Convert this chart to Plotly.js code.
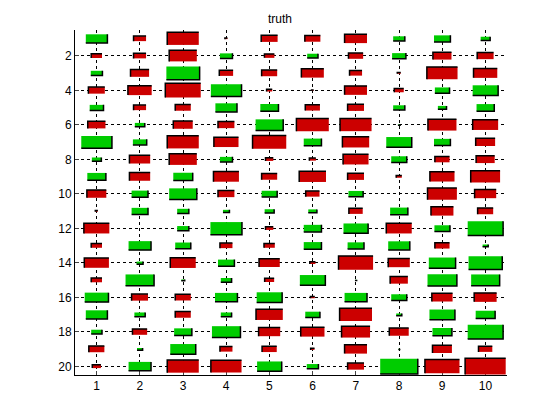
<!DOCTYPE html>
<html><head><meta charset="utf-8">
<script src="https://cdn.plot.ly/plotly-3.0.1.min.js"></script>
<style>body{margin:0;background:#fff}</style></head>
<body><div id="plot" style="width:560px;height:420px"></div>
<script>
const cols = [1,2,3,4,5,6,7,8,9,10];
const rows = [1,2,3,4,5,6,7,8,9,10,11,12,13,14,15,16,17,18,19,20];
const yTicks = [2,4,6,8,10,12,14,16,18,20];
// signed relative box size per row (rows 1..20), columns 1..10
const truth = [
 [ 0.50,-0.29,-0.73,-0.06,-0.38,-0.36,-0.52, 0.27, 0.38, 0.22],
 [-0.25,-0.29,-0.64, 0.29,-0.23, 0.25,-0.34, 0.32,-0.43,-0.38],
 [ 0.27,-0.43, 0.77,-0.32,-0.36,-0.52,-0.29,-0.08,-0.71,-0.55],
 [-0.38,-0.55,-0.82, 0.71,-0.13,-0.05,-0.52,-0.22, 0.34, 0.59],
 [ 0.32,-0.29,-0.36, 0.50, 0.42,-0.34,-0.38, 0.27, 0.20, 0.41],
 [-0.41, 0.23,-0.45,-0.38, 0.64,-0.75,-0.73, 0.05,-0.66,-0.59],
 [ 0.71, 0.32,-0.73,-0.57,-0.78, 0.41,-0.62, 0.59, 0.38,-0.45],
 [ 0.22,-0.48,-0.64, 0.29,-0.18,-0.15,-0.59, 0.36,-0.34,-0.43],
 [ 0.43,-0.48, 0.45,-0.59,-0.36,-0.62,-0.38,-0.13,-0.57,-0.68],
 [-0.45, 0.38, 0.64,-0.38, 0.36,-0.32, 0.34, 0.00,-0.68,-0.50],
 [-0.06, 0.38, 0.27, 0.15, 0.22, 0.20,-0.32, 0.41,-0.52,-0.36],
 [-0.59, 0.00, 0.27, 0.73,-0.18, 0.41, 0.57,-0.59, 0.36, 0.82],
 [-0.25, 0.52, 0.36,-0.29,-0.25, 0.41, 0.38, 0.50,-0.34, 0.13],
 [-0.57, 0.15,-0.59, 0.38,-0.48,-0.13,-0.80,-0.50, 0.62, 0.78],
 [-0.25, 0.66, 0.08, 0.25,-0.22, 0.59, 0.04,-0.41, 0.68, 0.66],
 [ 0.55,-0.38,-0.36, 0.52, 0.59,-0.10, 0.52, 0.36,-0.48,-0.52],
 [ 0.50, 0.25,-0.36, 0.25,-0.62, 0.34,-0.75, 0.13, 0.59, 0.45],
 [ 0.25,-0.34, 0.41, 0.66,-0.50,-0.55,-0.66,-0.45, 0.45, 0.82],
 [-0.36, 0.13, 0.59,-0.29,-0.34,-0.09,-0.52, 0.03,-0.45,-0.32],
 [-0.20, 0.52,-0.73,-0.71, 0.57, 0.27,-0.38, 0.87,-0.80,-0.94]
];
const shapes = [];
rows.forEach((r, i) => {
  cols.forEach((c, j) => {
    const v = truth[i][j];
    const s = Math.abs(v) / 2;
    if (s === 0) return;
    const x0 = c - s, x1 = c + s, y0 = r - s, y1 = r + s; // y reversed: y0 top
    const pos = v > 0;
    shapes.push({type:'rect', xref:'x', yref:'y', x0, x1, y0, y1,
      fillcolor: pos ? '#00cc00' : '#cc0000', line:{width:0}, layer:'above'});
    // edge: green -> bottom & right; red -> top & left
    const path = pos
      ? `M${x0},${y1} L${x1},${y1} L${x1},${y0}`
      : `M${x0},${y1} L${x0},${y0} L${x1},${y0}`;
    shapes.push({type:'path', xref:'x', yref:'y', path, line:{color:'#000', width:1.5}, layer:'above'});
  });
});
const layout = {
  width:560, height:420, margin:{l:75, r:53, t:30, b:45},
  paper_bgcolor:'#fff', plot_bgcolor:'#fff', showlegend:false,
  title:{text:'truth', font:{family:'Liberation Sans, Arial', size:12, color:'#000'}, x:0.5, xanchor:'center', y:0.965},
  font:{family:'Liberation Sans, Arial', size:12, color:'#000'},
  xaxis:{range:[0.5,10.5], tickvals:cols, ticks:'inside', ticklen:4, showline:true, linecolor:'#000', mirror:false,
    showgrid:true, gridcolor:'#000', griddash:'dot', gridwidth:1, zeroline:false, fixedrange:true},
  yaxis:{range:[20.5,0.5], tickvals:yTicks, ticks:'inside', ticklen:4, showline:true, linecolor:'#000', mirror:false,
    showgrid:true, gridcolor:'#000', griddash:'dot', gridwidth:1, zeroline:false, fixedrange:true},
  shapes
};
Plotly.newPlot('plot', [{x:[1], y:[1], mode:'markers', marker:{opacity:0}, hoverinfo:'skip'}], layout, {staticPlot:true});
</script></body></html>
